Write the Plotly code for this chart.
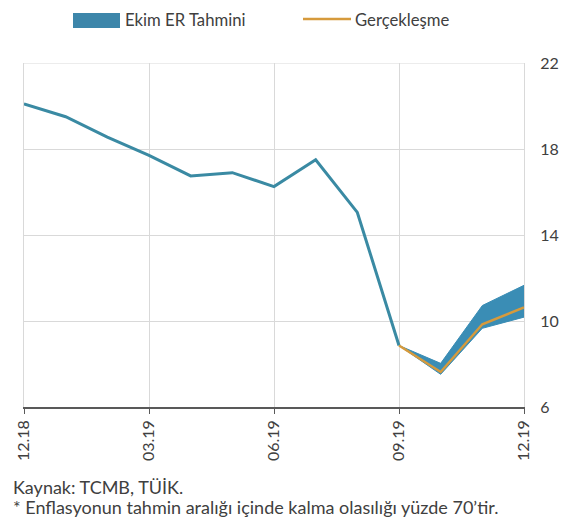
import plotly.graph_objects as go

months = ["12.18", "01.19", "02.19", "03.19", "04.19", "05.19", "06.19",
          "07.19", "08.19", "09.19", "10.19", "11.19", "12.19"]
tick_labels = ["12.18", "03.19", "06.19", "09.19", "12.19"]

history = [20.1, 19.5, 18.55, 17.7, 16.75, 16.9, 16.25, 17.5, 15.05, 8.86]
band_months = ["09.19", "10.19", "11.19", "12.19"]
band_upper = [8.86, 8.03, 10.72, 11.66]
band_lower = [8.86, 7.52, 9.66, 10.18]
actual = [8.86, 7.63, 9.85, 10.63]

idx = {m: i for i, m in enumerate(months)}
hx = list(range(len(history)))
bx = [idx[m] for m in band_months]
tick_pos = [idx[m] for m in tick_labels]

BAND = "#3a8db5"
LINE = "#3a8aa3"
ORANGE = "#d69a3c"
FONT = "Lato, 'Open Sans', sans-serif"
TXT = "#404040"
GRID = "#d9d9d9"
FS = 16

fig = go.Figure()
fig.add_trace(go.Scatter(x=bx, y=band_lower, mode="lines", line=dict(color=BAND, width=1),
                         showlegend=False, hoverinfo="skip"))
fig.add_trace(go.Scatter(x=bx, y=band_upper, mode="lines", line=dict(color=BAND, width=1),
                         fill="tonexty", fillcolor=BAND, name="Ekim ER Tahmini", showlegend=False))
fig.add_trace(go.Scatter(x=hx, y=history, mode="lines", line=dict(color=LINE, width=3),
                         showlegend=False))
fig.add_trace(go.Scatter(x=bx, y=actual, mode="lines", line=dict(color=ORANGE, width=2.5),
                         name="Gerçekleşme", showlegend=False))

fig.update_layout(
    width=562, height=519,
    margin=dict(l=24, r=38, t=63, b=112),
    plot_bgcolor="white", paper_bgcolor="white",
    font=dict(family=FONT, size=FS, color=TXT),
    showlegend=False,
)
fig.update_xaxes(range=[0, 12], tickvals=tick_pos, ticktext=tick_labels, tickangle=-90,
                 showgrid=True, gridcolor=GRID, gridwidth=1, automargin=False,
                 showline=True, linecolor="#595959", linewidth=1.5,
                 ticks="outside", ticklen=5, tickcolor="#595959", zeroline=False,
                 tickfont=dict(size=FS, color=TXT))
fig.update_yaxes(range=[6, 22], tickvals=[6, 10, 14, 18, 22], side="right",
                 showgrid=True, gridcolor=GRID, gridwidth=1, zeroline=False, automargin=False,
                 showline=True, linecolor=GRID, linewidth=1, mirror=True,
                 ticks="", ticklabelstandoff=12, tickfont=dict(size=FS, color=TXT))

# top edge gridline at 22
fig.add_shape(type="line", xref="paper", yref="y", x0=0, x1=1, y0=22, y1=22,
              line=dict(color=GRID, width=1), layer="below")

# manual legend
fig.add_shape(type="rect", xref="paper", yref="paper",
              x0=(73 - 24) / 500, x1=(120 - 24) / 500,
              y0=1 + (63 - 28) / 344, y1=1 + (63 - 13) / 344,
              fillcolor="#3d86aa", line=dict(width=0))
fig.add_annotation(xref="paper", yref="paper", x=(123 - 24) / 500, y=1 + (63 - 20) / 344,
                   text="Ekim ER Tahmini", showarrow=False, xanchor="left", yanchor="middle",
                   font=dict(size=16.7, color=TXT))
fig.add_shape(type="line", xref="paper", yref="paper",
              x0=(303 - 24) / 500, x1=(351 - 24) / 500,
              y0=1 + (63 - 19) / 344, y1=1 + (63 - 19) / 344,
              line=dict(color=ORANGE, width=2.5))
fig.add_annotation(xref="paper", yref="paper", x=(353 - 24) / 500, y=1 + (63 - 20) / 344,
                   text="Gerçekleşme", showarrow=False, xanchor="left", yanchor="middle",
                   font=dict(size=16.7, color=TXT))

# footer
fig.add_annotation(xref="paper", yref="paper", x=(11 - 24) / 500, y=-(487 - 407) / 344,
                   text="Kaynak: TCMB, TÜİK.", showarrow=False, xanchor="left", yanchor="middle",
                   font=dict(size=18, color=TXT))
fig.add_annotation(xref="paper", yref="paper", x=(11 - 24) / 500, y=-(507 - 407) / 344,
                   text="* Enflasyonun tahmin aralığı içinde kalma olasılığı yüzde 70’tir.",
                   showarrow=False, xanchor="left", yanchor="middle",
                   font=dict(size=18, color=TXT))

fig.write_html("out.html", config={"displayModeBar": False},
               post_script="document.body.style.margin='0px';document.body.style.overflow='hidden';")
